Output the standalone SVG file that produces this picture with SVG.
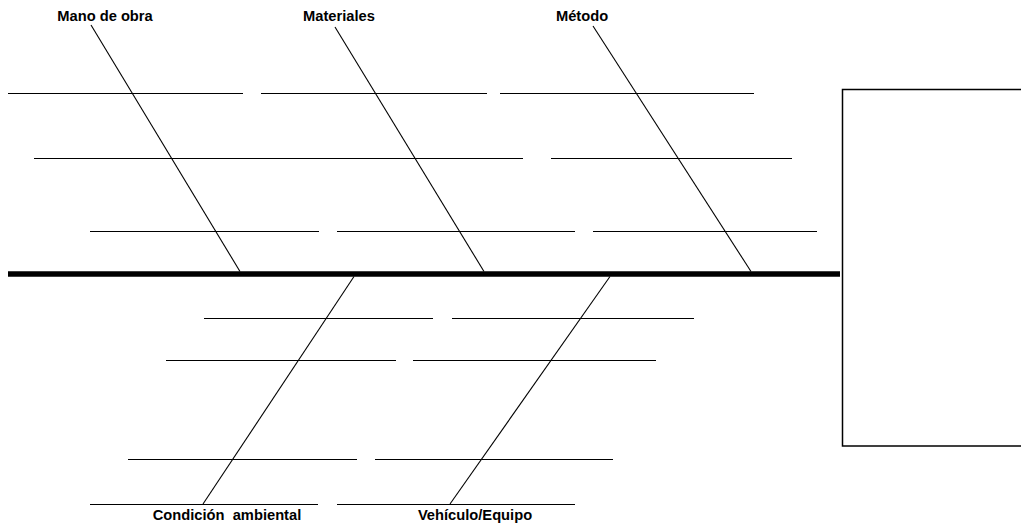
<svg xmlns="http://www.w3.org/2000/svg" width="1021" height="529" viewBox="0 0 1021 529">
  <style>
    .rib { stroke: #000; stroke-width: 1.2; fill: none; }
    .bone { stroke: #000; stroke-width: 1.1; fill: none; }
    .spine { stroke: #000; stroke-width: 5.4; fill: none; }
    .label { font-family: "Liberation Sans", Arial, sans-serif; font-weight: bold; font-size: 14.7px; fill: #000; text-anchor: middle; white-space: pre; }
    .effect { fill: #fff; stroke: #000; stroke-width: 1.5; }
  </style>
  <rect width="1021" height="529" fill="#fff"/>

  <!-- effect box on the right -->
  <g id="effect">
    <rect class="effect" x="842.5" y="89.5" width="200" height="356.5"/>
  </g>

  <!-- writing lines for the causes -->
  <g id="rib-lines">
    <line class="rib" x1="8" y1="93.5" x2="243" y2="93.5"/>
    <line class="rib" x1="261" y1="93.5" x2="487" y2="93.5"/>
    <line class="rib" x1="500" y1="93.5" x2="754" y2="93.5"/>
    <line class="rib" x1="34" y1="158.5" x2="523" y2="158.5"/>
    <line class="rib" x1="551" y1="158.5" x2="792" y2="158.5"/>
    <line class="rib" x1="90" y1="231.5" x2="319" y2="231.5"/>
    <line class="rib" x1="337" y1="231.5" x2="575" y2="231.5"/>
    <line class="rib" x1="593" y1="231.5" x2="817" y2="231.5"/>
    <line class="rib" x1="204" y1="318.5" x2="433" y2="318.5"/>
    <line class="rib" x1="452" y1="318.5" x2="694" y2="318.5"/>
    <line class="rib" x1="166" y1="360.5" x2="396" y2="360.5"/>
    <line class="rib" x1="413" y1="360.5" x2="656" y2="360.5"/>
    <line class="rib" x1="128" y1="459.5" x2="357" y2="459.5"/>
    <line class="rib" x1="375" y1="459.5" x2="613" y2="459.5"/>
    <line class="rib" x1="90" y1="504.5" x2="318" y2="504.5"/>
    <line class="rib" x1="337" y1="504.5" x2="575" y2="504.5"/>
  </g>

  <!-- spine and category bones -->
  <g id="connectors">
    <line class="spine" x1="8" y1="274" x2="840" y2="274"/>
    <line class="bone" x1="91" y1="25" x2="240" y2="271.5"/>
    <line class="bone" x1="335" y1="27" x2="484" y2="271.5"/>
    <line class="bone" x1="593" y1="26" x2="751" y2="271.5"/>
    <line class="bone" x1="354" y1="276.5" x2="203" y2="504"/>
    <line class="bone" x1="610" y1="276.5" x2="450" y2="504"/>
  </g>

  <g id="mano-de-obra">
    <text class="label" x="105" y="21">Mano de obra</text>
  </g>
  <g id="materiales">
    <text class="label" x="339" y="21">Materiales</text>
  </g>
  <g id="metodo">
    <text class="label" x="582" y="21">Método</text>
  </g>
  <g id="condicion-ambiental">
    <text class="label" x="227" y="520" xml:space="preserve">Condición  ambiental</text>
  </g>
  <g id="vehiculo-equipo">
    <text class="label" x="475" y="520">Vehículo/Equipo</text>
  </g>
</svg>
